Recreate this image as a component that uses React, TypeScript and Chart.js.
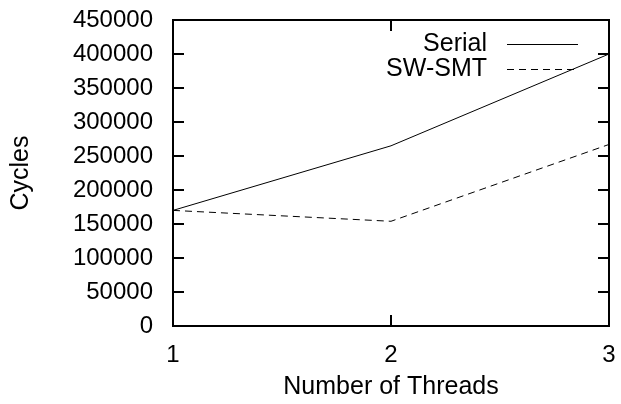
import React, { useEffect, useRef } from "react";
import { Chart, registerables } from "chart.js";

Chart.register(...registerables);

const threads = [1, 2, 3];
const serialCycles = [170000, 265000, 400000];
const swSmtCycles = [170000, 154000, 267000];
const seriesLabels = ["Serial", "SW-SMT"];
const yMin = 0;
const yMax = 450000;
const yStep = 50000;
const xTitle = "Number of Threads";
const yTitle = "Cycles";

export default function App() {
  const ref = useRef<HTMLCanvasElement>(null);

  useEffect(() => {
    if (!ref.current) return;
    const fontFamily = "'Liberation Sans', Arial, Helvetica, sans-serif";
    const frame = {
      id: "gnuplotFrame",
      afterDraw(chart: any) {
        const { ctx, chartArea: a, scales } = chart;
        const xs = scales.x;
        const ys = scales.y;
        const tl = 11;
        ctx.save();
        ctx.strokeStyle = "#000";
        ctx.lineWidth = 2;
        ctx.beginPath();
        xs.ticks.forEach((t: any) => {
          const px = Math.round(xs.getPixelForValue(t.value));
          ctx.moveTo(px, a.bottom);
          ctx.lineTo(px, a.bottom - tl);
          ctx.moveTo(px, a.top);
          ctx.lineTo(px, a.top + tl);
        });
        ys.ticks.forEach((t: any) => {
          const py = Math.round(ys.getPixelForValue(t.value));
          ctx.moveTo(a.left, py);
          ctx.lineTo(a.left + tl, py);
          ctx.moveTo(a.right, py);
          ctx.lineTo(a.right - tl, py);
        });
        ctx.stroke();
        ctx.strokeRect(a.left, a.top, a.right - a.left, a.bottom - a.top);

        // legend
        ctx.font = `25px ${fontFamily}`;
        ctx.fillStyle = "#000";
        ctx.textAlign = "right";
        ctx.textBaseline = "middle";
        chart.data.datasets.forEach((ds: any, i: number) => {
          const y = Math.round(a.top + 24 + i * 25) + 0.5;
          ctx.fillText(ds.label, a.right - 122, y);
          ctx.save();
          ctx.lineWidth = 1;
          ctx.setLineDash(ds.borderDash || []);
          ctx.beginPath();
          ctx.moveTo(a.right - 102, y);
          ctx.lineTo(a.right - 31, y);
          ctx.stroke();
          ctx.restore();
        });
        ctx.restore();
      },
    };

    const tickFont = { family: fontFamily, size: 24 };
    const titleFont = { family: fontFamily, size: 25 };
    const zeroPad = (s: any) => {
      s.paddingTop = 0;
      s.paddingBottom = 0;
      s.paddingLeft = 0;
      s.paddingRight = 0;
    };
    const chart = new Chart(ref.current, {
      type: "line",
      data: {
        datasets: [
          {
            label: seriesLabels[0],
            data: threads.map((x, i) => ({ x, y: serialCycles[i] })),
            borderColor: "#000",
            borderWidth: 1,
            pointRadius: 0,
            tension: 0,
            fill: false,
          },
          {
            label: seriesLabels[1],
            data: threads.map((x, i) => ({ x, y: swSmtCycles[i] })),
            borderColor: "#000",
            borderWidth: 1,
            borderDash: [7, 5],
            pointRadius: 0,
            tension: 0,
            fill: false,
          },
        ],
      },
      options: {
        animation: false,
        responsive: true,
        maintainAspectRatio: false,
        layout: { padding: { top: 20, right: 12, left: 0, bottom: 0 } },
        plugins: { legend: { display: false }, tooltip: { enabled: false } },
        scales: {
          x: {
            type: "linear",
            min: threads[0],
            max: threads[threads.length - 1],
            ticks: {
              stepSize: 1,
              padding: 15,
              color: "#000",
              font: tickFont,
              callback: (v: any) => String(v),
            },
            grid: { display: false, drawTicks: false },
            border: { display: false },
            title: {
              display: true,
              text: xTitle,
              color: "#000",
              font: titleFont,
              padding: { top: 0, bottom: 2 },
            },
            afterFit: (s: any) => {
              s.height = 78;
              zeroPad(s);
            },
          },
          y: {
            type: "linear",
            min: yMin,
            max: yMax,
            ticks: {
              stepSize: yStep,
              padding: 20,
              color: "#000",
              font: tickFont,
              callback: (v: any) => String(v),
            },
            grid: { display: false, drawTicks: false },
            border: { display: false },
            title: {
              display: true,
              text: yTitle,
              color: "#000",
              font: titleFont,
              padding: { top: 6, bottom: 0 },
            },
            afterFit: (s: any) => {
              s.width = 173;
              zeroPad(s);
            },
          },
        },
      },
      plugins: [frame],
    } as any);
    return () => chart.destroy();
  }, []);

  return (
    <div style={{ position: "absolute", left: 0, top: 0, width: 621, height: 404, background: "#fff" }}>
      <canvas ref={ref} />
    </div>
  );
}
